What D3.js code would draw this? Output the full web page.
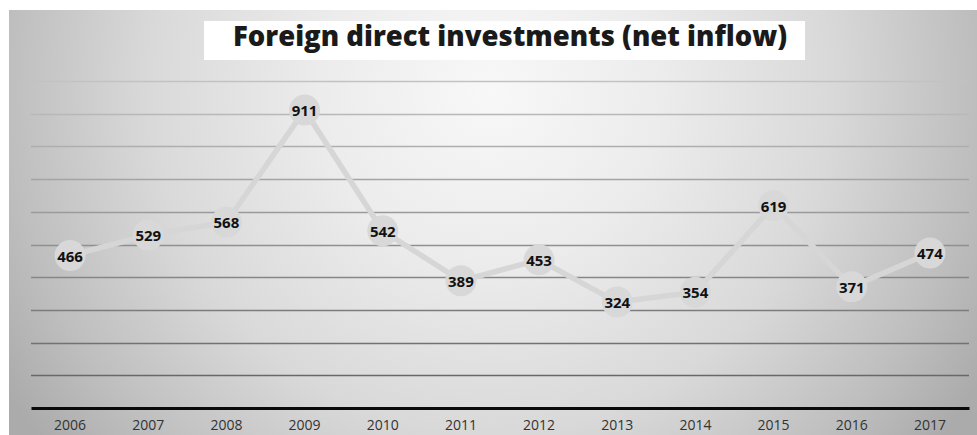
<!DOCTYPE html>
<html>
<head>
<meta charset="utf-8">
<script src="https://cdn.jsdelivr.net/npm/d3@7"></script>
<style>
  html, body { margin: 0; padding: 0; background: #ffffff; }
  svg { display: block; }
</style>
</head>
<body>
<svg id="chart" width="977" height="435"></svg>
<script>
// Foreign direct investments (net inflow), by year
const years = ["2006", "2007", "2008", "2009", "2010", "2011", "2012", "2013", "2014", "2015", "2016", "2017"];
const inflow = [466, 529, 568, 911, 542, 389, 453, 324, 354, 619, 371, 474];
const gridValues = [100, 200, 300, 400, 500, 600, 700, 800, 900, 1000];
const chartTitle = "Foreign direct investments (net inflow)";

const W = 977, H = 435;
const margin = { left: 31, right: 8, top: 81, bottom: 27 };
const svg = d3.select("#chart");

// Background panel with a soft radial light
const defs = svg.append("defs");
const bg = defs.append("radialGradient")
  .attr("id", "panelGlow")
  .attr("gradientUnits", "userSpaceOnUse")
  .attr("cx", 490).attr("cy", 90).attr("r", 570);
[[0, "#f8f8f8"], [0.3, "#ececec"], [0.6, "#d9d9d9"], [0.85, "#bebebe"], [1, "#ababab"]]
  .forEach(([o, c]) => bg.append("stop").attr("offset", o).attr("stop-color", c));

svg.append("rect")
  .attr("x", 9).attr("y", 10)
  .attr("width", W - 9).attr("height", H - 10)
  .attr("fill", "url(#panelGlow)");

const x = d3.scaleBand()
  .domain(years)
  .range([margin.left, W - margin.right])
  .padding(0);

const y = d3.scaleLinear()
  .domain([0, 1000])
  .range([H - margin.bottom, margin.top]);

// Horizontal gridlines, darker towards the bottom
const gridColor = d3.scaleLinear().domain([100, 1000]).range(["#686868", "#c2c2c2"]);
svg.append("g")
  .selectAll("line")
  .data(gridValues)
  .join("line")
  .attr("x1", margin.left).attr("x2", W - margin.right)
  .attr("y1", d => Math.round(y(d)) + 0.5)
  .attr("y2", d => Math.round(y(d)) + 0.5)
  .attr("stroke", d => gridColor(d))
  .attr("stroke-width", 1.6);

// Category axis
const xAxis = svg.append("g")
  .attr("transform", `translate(0,${y(0)})`)
  .call(d3.axisBottom(x).tickSize(0).tickPadding(12));
xAxis.select(".domain")
  .attr("stroke", "#0a0a0a")
  .attr("stroke-width", 3);
xAxis.selectAll("text")
  .attr("font-family", "'Open Sans', 'Noto Sans', sans-serif")
  .attr("font-size", 14)
  .attr("fill", "#333333");

// Title box
svg.append("rect")
  .attr("x", 204).attr("y", 21)
  .attr("width", 601).attr("height", 39)
  .attr("fill", "#ffffff");
svg.append("text")
  .attr("x", 510).attr("y", 46)
  .attr("text-anchor", "middle")
  .attr("font-family", "'Open Sans', 'Noto Sans', sans-serif")
  .attr("font-weight", 800)
  .attr("font-size", 29)
  .attr("fill", "#1a1a1a")
  .attr("textLength", 554)
  .attr("lengthAdjust", "spacingAndGlyphs")
  .text(chartTitle);

// Series line
const cx = d => x(d.year) + x.bandwidth() / 2;
const data = years.map((year, i) => ({ year, value: inflow[i] }));

svg.append("path")
  .datum(data)
  .attr("fill", "none")
  .attr("stroke", "#d6d6d6")
  .attr("stroke-width", 5.5)
  .attr("stroke-linejoin", "round")
  .attr("d", d3.line().x(cx).y(d => y(d.value)));

// Markers
svg.append("g")
  .selectAll("circle")
  .data(data)
  .join("circle")
  .attr("cx", cx)
  .attr("cy", d => y(d.value))
  .attr("r", 15.5)
  .attr("fill", "#d8d8d8");

// Value labels
svg.append("g")
  .selectAll("text")
  .data(data)
  .join("text")
  .attr("x", cx)
  .attr("y", d => y(d.value) + 6)
  .attr("text-anchor", "middle")
  .attr("font-family", "'Open Sans', 'Noto Sans', sans-serif")
  .attr("font-weight", 700)
  .attr("font-size", 15)
  .attr("fill", "#111111")
  .text(d => d.value);
</script>
</body>
</html>
